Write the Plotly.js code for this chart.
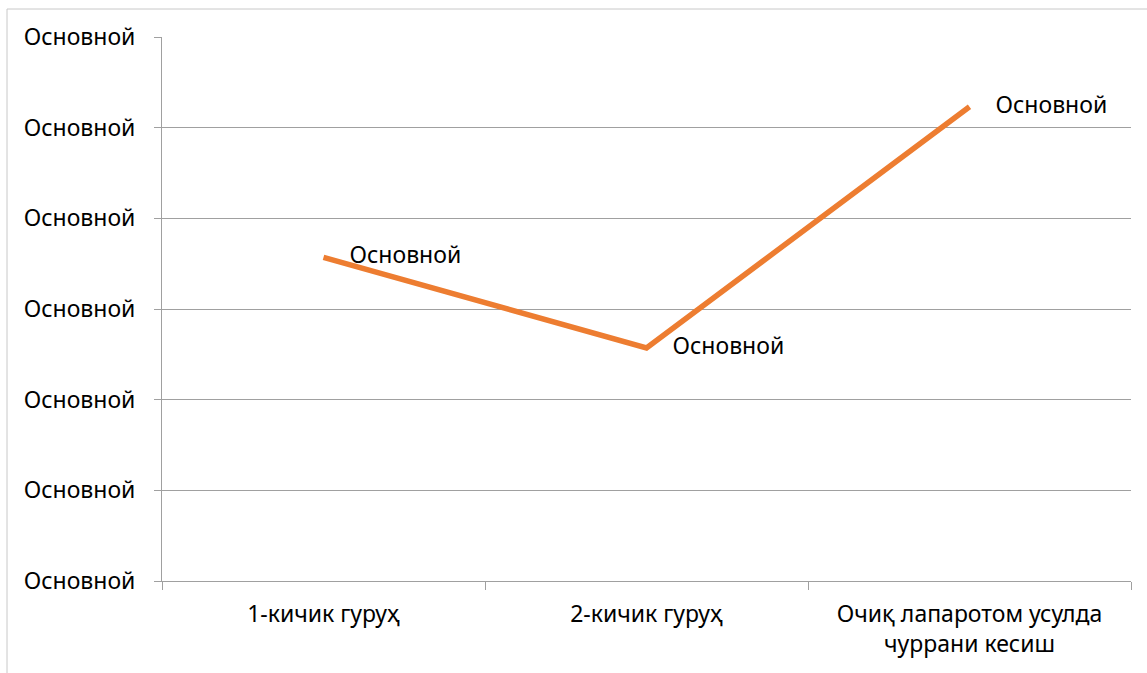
<!DOCTYPE html>
<html>
<head>
<meta charset="utf-8">
<script src="https://cdn.plot.ly/plotly-3.0.1.min.js"></script>
<style>
html,body{margin:0;padding:0;background:#fff;}
#chart{width:1147px;height:673px;}
</style>
</head>
<body>
<div id="chart"></div>
<script>
var categories = ["1-кичик гуруҳ", "2-кичик гуруҳ", "Очиқ лапаротом усулда<br>чуррани кесиш"];
var values = [3.57, 2.57, 5.23];
var pointLabels = ["Основной", "Основной", "Основной"];
var yTickValues = [0, 1, 2, 3, 4, 5, 6];
var yTickLabels = ["Основной", "Основной", "Основной", "Основной", "Основной", "Основной", "Основной"];

var FONT = "Noto Sans, Open Sans, sans-serif";
var FS = 23;

var trace = {
  x: categories,
  y: values,
  type: "scatter",
  mode: "lines+markers+text",
  line: {color: "#ED7D31", width: 5.5},
  marker: {size: 40, color: "rgba(0,0,0,0)"},
  text: pointLabels,
  textposition: "middle right",
  textfont: {family: FONT, size: FS, color: "#000"},
  hoverinfo: "x+y",
  cliponaxis: false
};

var layout = {
  width: 1147,
  height: 673,
  margin: {l: 162, r: 16, t: 37, b: 92, pad: 0},
  paper_bgcolor: "#fff",
  plot_bgcolor: "#fff",
  showlegend: false,
  font: {family: FONT, size: FS, color: "#000"},
  xaxis: {
    type: "category",
    range: [-0.5, 2.5],
    showgrid: false,
    showline: true,
    linecolor: "#a0a0a0",
    linewidth: 1,
    ticks: "outside",
    tickson: "boundaries",
    ticklen: 8,
    tickcolor: "#a0a0a0",
    ticklabelstandoff: 12,
    tickfont: {family: FONT, size: FS, color: "#000"},
    fixedrange: true
  },
  yaxis: {
    range: [0, 6],
    tickvals: yTickValues,
    ticktext: yTickLabels,
    showgrid: true,
    gridcolor: "#a0a0a0",
    gridwidth: 1,
    zeroline: false,
    showline: true,
    linecolor: "#a0a0a0",
    ticks: "outside",
    ticklen: 7,
    tickcolor: "#a0a0a0",
    ticklabelstandoff: 14,
    tickfont: {family: FONT, size: FS, color: "#000"},
    fixedrange: true
  },
  shapes: [{
    type: "rect",
    xref: "paper", yref: "paper",
    x0: (7 - 162) / 969, x1: 1.2,
    y0: -0.5, y1: 1 + 28 / 544,
    line: {color: "#c8c8c8", width: 1},
    fillcolor: "rgba(0,0,0,0)",
    layer: "below"
  }]
};

Plotly.newPlot("chart", [trace], layout, {displayModeBar: false, staticPlot: true});
</script>
</body>
</html>
